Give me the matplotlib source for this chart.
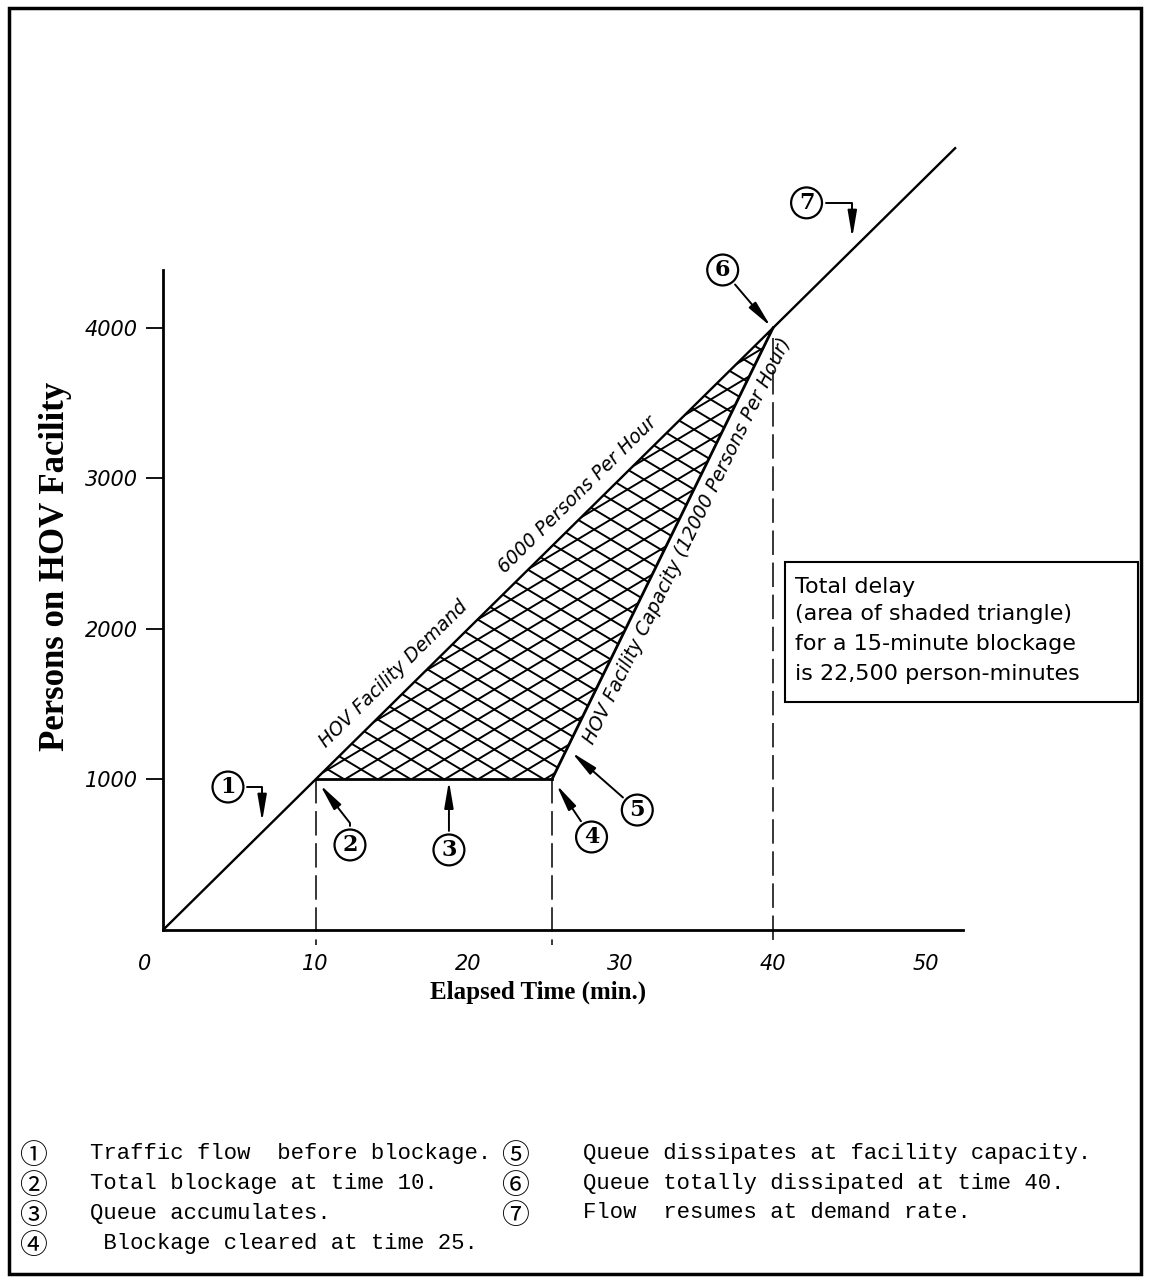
import numpy as np
import matplotlib.pyplot as plt
from matplotlib.patches import Polygon, Rectangle
from matplotlib.collections import LineCollection
from matplotlib.transforms import ScaledTranslation

# traffic curves (minutes, persons)
demand_t = [0, 10, 40, 52]
demand_p = [0, 1000, 4000, 5200]
block_t = [10, 25.5]
block_p = [1000, 1000]
cap_t = [25.5, 40]
cap_p = [1000, 4000]
queue_t = [10, 40, 25.5]
queue_p = [1000, 4000, 1000]
drop_t = [10, 25.5, 40]
drop_top = [1000, 1000, 3930]

x_ticks = [0, 10, 20, 30, 40, 50]
y_ticks = [1000, 2000, 3000, 4000]

legend_left = [("①", "Traffic flow  before blockage."),
               ("②", "Total blockage at time 10."),
               ("③", "Queue accumulates."),
               ("④", " Blockage cleared at time 25.")]
legend_right = [("⑤", "Queue dissipates at facility capacity."),
                ("⑥", "Queue totally dissipated at time 40."),
                ("⑦", "Flow  resumes at demand rate.")]

box_lines = ["Total delay", "(area of shaded triangle)",
             "for a 15-minute blockage", "is 22,500 person-minutes"]

W, H = 1149, 1280
fig = plt.figure(figsize=(W / 100, H / 100), dpi=100)
ax = fig.add_axes([163 / W, 1 - 930 / H, 800 / W, 660 / H])
ax.set_xlim(0, 800 / 15.25)
ax.set_ylim(0, 4385)

for s in ["top", "right"]:
    ax.spines[s].set_visible(False)
for s in ["left", "bottom"]:
    ax.spines[s].set_linewidth(2.0)

ax.set_xticks(x_ticks)
ax.set_xticklabels([str(v) for v in x_ticks], fontsize=15, style="italic")
ax.tick_params(axis="x", length=0, pad=17)
ax.set_yticks(y_ticks)
ax.set_yticklabels([str(v) for v in y_ticks], fontsize=15, style="italic")
ax.tick_params(axis="y", length=12, width=1.3, pad=6)
# the "0" sits left of the origin
lab0 = ax.get_xticklabels()[0]
lab0.set_transform(lab0.get_transform() + ScaledTranslation(-0.18, 0, fig.dpi_scale_trans))

# lines
ax.plot(demand_t, demand_p, color="black", lw=1.7, clip_on=False, solid_capstyle="butt")
ax.plot(block_t, block_p, color="black", lw=2.0)
ax.plot(cap_t, cap_p, color="black", lw=2.0)
for t, top in zip(drop_t, drop_top):
    ax.plot([t, t], [top, -100], color="black", lw=1.1, dashes=(16, 5), clip_on=False)

# cross-hatched queue triangle
tri = Polygon(list(zip(queue_t, queue_p)), closed=True, facecolor="none", edgecolor="none")
ax.add_patch(tri)
p0 = ax.transData.transform((0, 0))
p1 = ax.transData.transform((1, 1))
sx, sy = p1 - p0
slope = np.tan(np.radians(31)) * sx / sy
gap = 20 / sy
segs = []
for sgn in (1, -1):
    for k in range(-60, 60):
        b = 1000 + k * gap
        segs.append([(10, b + sgn * slope * (10 - 25)), (40, b + sgn * slope * (40 - 25))])
hatch = LineCollection(segs, colors="black", linewidths=1.4)
ax.add_collection(hatch)
hatch.set_clip_path(tri)

# text along the lines
def ang(xa, ya, xb, yb):
    a = ax.transData.transform((xa, ya))
    b = ax.transData.transform((xb, yb))
    return np.degrees(np.arctan2(b[1] - a[1], b[0] - a[0]))

rd = ang(10, 1000, 40, 4000)
rc = ang(25.5, 1000, 40, 4000)
ax.text(15.1, 1700, "HOV Facility Demand", rotation=rd, rotation_mode="anchor",
        ha="center", va="center", fontsize=13.5, style="italic")
ax.text(27.2, 2890, "6000 Persons Per Hour", rotation=rd, rotation_mode="anchor",
        ha="center", va="center", fontsize=13.5, style="italic")
ax.text(34.4, 2585, "HOV Facility Capacity (12000 Persons Per Hour)", rotation=rc,
        rotation_mode="anchor", ha="center", va="center", fontsize=13.5, style="italic")

# circled callouts
circ = dict(boxstyle="circle,pad=0.2", fc="white", ec="black", lw=1.6)
def arrow(conn="arc3"):
    return dict(arrowstyle="-|>,head_length=1.0,head_width=0.17", color="black", lw=1.4,
                connectionstyle=conn, shrinkB=0, mutation_scale=16)

calls = [
    ("1", (6.5, 720), (4.26, 950), "angle,angleA=0,angleB=90,rad=0"),
    ("2", (10.3, 965), (12.26, 565), "angle,angleA=90,angleB=-52,rad=0"),
    ("3", (18.75, 990), (18.75, 532), "arc3"),
    ("4", (25.8, 965), (28.1, 618), "arc3"),
    ("5", (26.8, 1180), (31.1, 797), "arc3"),
    ("6", (39.85, 4010), (36.7, 4385), "arc3"),
    ("7", (45.2, 4600), (42.2, 4831), "angle,angleA=0,angleB=90,rad=0"),
]
for num, xy, xyt, conn in calls:
    ax.annotate(num, xy=xy, xytext=xyt, ha="center", va="center", fontsize=16,
                family="DejaVu Serif", weight="bold", bbox=circ,
                arrowprops=arrow(conn), annotation_clip=False)

# axis titles
fig.text(538 / W, 1 - 992 / H, "Elapsed Time (min.)", ha="center", va="center",
         fontsize=18, family="Liberation Serif", weight="bold")
fig.text(56 / W, 1 - 566 / H, "Persons on HOV Facility", ha="center", va="center",
         rotation=90, fontsize=25, family="Liberation Serif", weight="bold")

# total delay box
fig.add_artist(Rectangle((785 / W, 1 - 702 / H), 353 / W, 140 / H, transform=fig.transFigure,
                         fill=False, ec="black", lw=1.5))
for line, yy in zip(box_lines, [587, 614, 644, 674]):
    fig.text(795 / W, 1 - yy / H, line, ha="left", va="center", fontsize=16)

# legend at the bottom
rows = [1153, 1183, 1213, 1243]
for (c, txt), yy in zip(legend_left, rows):
    fig.text(33 / W, 1 - (yy + 3) / H, c, ha="center", va="center", fontsize=20,
             family="Noto Sans CJK JP")
    fig.text(90 / W, 1 - yy / H, txt, ha="left", va="center", fontsize=16,
             family="Liberation Mono")
for (c, txt), yy in zip(legend_right, rows):
    fig.text(515 / W, 1 - (yy + 3) / H, c, ha="center", va="center", fontsize=20,
             family="Noto Sans CJK JP")
    fig.text(583 / W, 1 - yy / H, txt, ha="left", va="center", fontsize=16,
             family="Liberation Mono")

# frame round the whole figure
fig.add_artist(Rectangle((9 / W, 6 / H), 1132 / W, 1266 / H, transform=fig.transFigure,
                         fill=False, ec="black", lw=2.5))

fig.savefig("out.png", dpi=100)
